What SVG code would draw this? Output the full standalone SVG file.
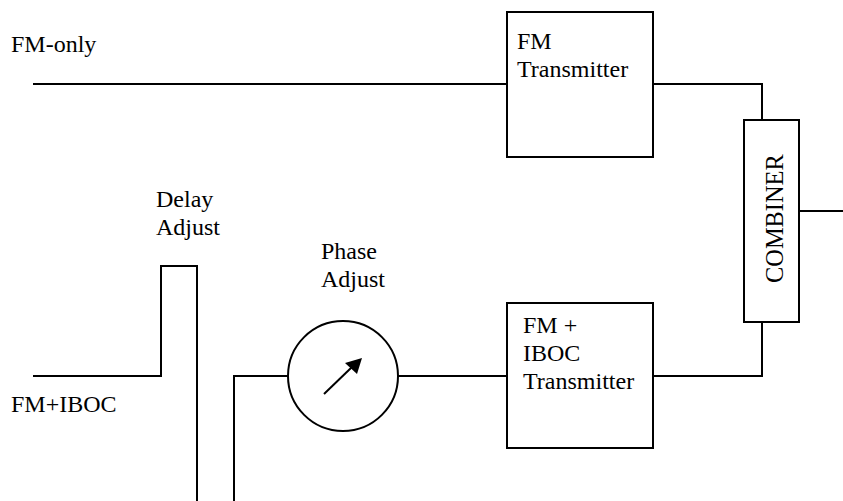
<svg xmlns="http://www.w3.org/2000/svg" width="843" height="501" viewBox="0 0 843 501">
<style>
text{font-family:"Liberation Serif","Times New Roman",serif;font-size:24px;fill:#000}
.s{fill:#fff;stroke:#000;stroke-width:2}
.l{fill:none;stroke:#000;stroke-width:2}
</style>
<rect width="843" height="501" fill="#fff"/>
<g id="connectors">
<path class="l" d="M33 84H507"/>
<path class="l" d="M653 84H762V120"/>
<path class="l" d="M33 376H161V266H197V501"/>
<path class="l" d="M234 501V376H288"/>
<path class="l" d="M398 376H507"/>
<path class="l" d="M653 376H762V322"/>
<path class="l" d="M799 211H843"/>
</g>
<g id="fm-transmitter"><rect class="s" x="507" y="12" width="146" height="145"/><text x="517" y="49">FM</text><text x="517" y="77">Transmitter</text></g>
<g id="iboc-transmitter"><rect class="s" x="507" y="303" width="146" height="145"/><text x="523" y="333">FM +</text><text x="523" y="361">IBOC</text><text x="523" y="389">Transmitter</text></g>
<g id="combiner"><rect class="s" x="744" y="120" width="55" height="202"/><text transform="translate(783 283) rotate(-90)" style="font-size:24.4px">COMBINER</text></g>
<g id="phase"><circle class="s" cx="343" cy="376" r="55"/><path class="l" d="M324 394L352 367"/><polygon points="362,358 357,374 345,363" fill="#000"/></g>
<g id="labels">
<text x="11" y="52">FM-only</text>
<text x="11" y="412">FM+IBOC</text>
<text x="156" y="207">Delay</text>
<text x="156" y="235">Adjust</text>
<text x="321" y="259">Phase</text>
<text x="321" y="287">Adjust</text>
</g>
</svg>
